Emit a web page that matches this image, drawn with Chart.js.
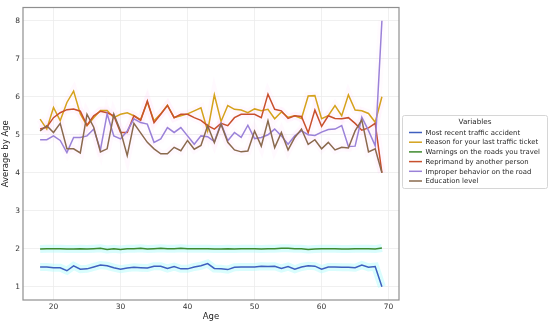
<!DOCTYPE html>
<html>
<head>
<meta charset="utf-8">
<script src="https://cdn.jsdelivr.net/npm/chart.js@4.4.1/dist/chart.umd.min.js"></script>
<style>
  html, body { margin: 0; padding: 0; background: #fff; }
  #wrap { width: 550px; height: 324px; }
</style>
</head>
<body>
<div id="wrap"><canvas id="ageChart" width="550" height="324"></canvas></div>
<script>
// --- DATA ---
const ages = [18, 19, 20, 21, 22, 23, 24, 25, 26, 27, 28, 29, 30, 31, 32, 33, 34,
  35, 36, 37, 38, 39, 40, 41, 42, 43, 44, 45, 46, 47, 48, 49, 50, 51, 52, 53,
  54, 55, 56, 57, 58, 59, 60, 61, 62, 63, 64, 65, 66, 67, 68, 69];

const recentAccident = [1.52, 1.52, 1.50, 1.50, 1.42, 1.55, 1.46, 1.47, 1.52, 1.57, 1.55, 1.50,
  1.46, 1.49, 1.51, 1.50, 1.49, 1.54, 1.54, 1.48, 1.53, 1.47, 1.47, 1.52, 1.55, 1.61,
  1.48, 1.47, 1.45, 1.51, 1.52, 1.52, 1.52, 1.54, 1.53, 1.54, 1.48, 1.53, 1.46, 1.52,
  1.55, 1.54, 1.46, 1.52, 1.52, 1.51, 1.51, 1.50, 1.57, 1.51, 1.53, 1.00];

const lastTicket = [5.41, 5.15, 5.72, 5.37, 5.85, 6.15, 5.55, 5.24, 5.45, 5.64, 5.64, 5.45,
  5.54, 5.58, 5.50, 5.40, 5.86, 5.37, 5.55, 5.78, 5.45, 5.50, 5.55, 5.63, 5.71, 5.10,
  6.05, 5.35, 5.77, 5.67, 5.65, 5.58, 5.68, 5.63, 5.67, 5.42, 5.60, 5.46, 5.50, 5.43,
  6.02, 6.03, 5.42, 5.50, 5.77, 5.50, 6.05, 5.65, 5.63, 5.56, 5.33, 6.00];

const roadWarnings = [1.99, 2.00, 2.00, 2.00, 1.99, 1.99, 2.00, 1.99, 2.00, 2.01, 1.98, 2.00,
  1.98, 2.00, 2.00, 2.01, 1.99, 2.00, 2.01, 2.00, 2.00, 2.01, 2.00, 2.00, 2.00, 2.00,
  1.99, 1.99, 2.00, 1.99, 2.00, 2.00, 2.00, 1.99, 2.00, 2.00, 2.01, 2.01, 2.00, 2.00,
  1.98, 1.99, 2.00, 2.00, 2.00, 1.99, 1.99, 2.00, 2.00, 2.00, 1.99, 2.02];

const reprimand = [5.15, 5.20, 5.45, 5.58, 5.66, 5.68, 5.62, 5.25, 5.50, 5.62, 5.58, 5.50,
  5.06, 5.06, 5.50, 5.38, 5.89, 5.32, 5.54, 5.77, 5.45, 5.54, 5.54, 5.45, 5.38, 5.24,
  5.15, 5.30, 5.24, 5.45, 5.54, 5.54, 5.54, 5.45, 6.07, 5.67, 5.63, 5.43, 5.50, 5.48,
  5.05, 5.65, 5.22, 5.50, 5.43, 5.42, 5.45, 5.30, 5.12, 5.18, 5.30, 4.00];

const improperBehavior = [4.87, 4.87, 4.97, 4.85, 4.53, 4.93, 4.93, 4.97, 5.15, 4.60, 5.55, 4.97,
  4.89, 5.10, 5.42, 5.32, 5.28, 4.80, 4.89, 5.19, 5.06, 5.19, 4.97, 4.75, 4.97, 4.95,
  4.82, 5.30, 4.84, 5.06, 4.93, 5.25, 4.90, 4.93, 5.00, 5.15, 4.97, 4.75, 4.97, 5.10,
  5.00, 4.98, 5.07, 5.14, 5.15, 5.24, 4.69, 4.70, 5.46, 5.11, 4.71, 8.00];

const education = [5.10, 5.24, 5.06, 5.30, 4.63, 4.63, 4.52, 5.54, 5.20, 4.55, 4.63, 5.54,
  5.10, 4.45, 5.30, 5.05, 4.80, 4.63, 4.50, 4.50, 4.67, 4.58, 4.85, 4.62, 4.72, 5.24,
  4.79, 5.28, 4.80, 4.60, 4.55, 4.57, 5.10, 4.70, 5.37, 4.66, 5.06, 4.60, 4.93, 5.15,
  4.75, 4.87, 4.63, 4.80, 4.60, 4.67, 4.65, 5.10, 5.39, 4.55, 4.63, 4.00];

const seriesNames = [
  "Most recent traffic accident",
  "Reason for your last traffic ticket",
  "Warnings on the roads you travel",
  "Reprimand by another person",
  "Improper behavior on the road",
  "Education level",
];
const seriesValues = [recentAccident, lastTicket, roadWarnings, reprimand, improperBehavior, education];
const xTickValues = [20, 30, 40, 50, 60, 70];
const yTickValues = [1, 2, 3, 4, 5, 6, 7, 8];

// --- STYLE ---
const lineColors = ["#3f5fbf", "#d4a21c", "#3e8a2e", "#c8502d", "#9a82d8", "#8a6a4e"];
const bandColors = [
  "rgba(170, 250, 250, 0.45)",
  "rgba(255, 170, 235, 0.07)",
  "rgba(170, 250, 250, 0.45)",
  "rgba(255, 170, 235, 0.07)",
  "rgba(255, 170, 235, 0.05)",
  "rgba(255, 170, 235, 0.07)",
];
const FONT = "'DejaVu Sans', sans-serif";

function toPoints(values) {
  return ages.map((age, i) => ({ x: age, y: values[i] }));
}

// bands first (drawn under), then the lines; later series sit on top like matplotlib
const datasets = [];
seriesValues.forEach((values, i) => {
  datasets.push({
    label: "band " + i,
    data: toPoints(values),
    borderColor: bandColors[i],
    borderWidth: 8,
    pointRadius: 0,
    order: 20,
  });
});
seriesValues.forEach((values, i) => {
  datasets.push({
    label: seriesNames[i],
    data: toPoints(values),
    borderColor: lineColors[i],
    backgroundColor: lineColors[i],
    borderWidth: 1.5,
    pointRadius: 0,
    tension: 0,
    order: seriesValues.length - i,
  });
});

// frame round the plot area
const plotFrame = {
  id: "plotFrame",
  afterDatasetsDraw(chart) {
    const { ctx, chartArea: a } = chart;
    ctx.save();
    ctx.strokeStyle = "#8f8f8f";
    ctx.lineWidth = 1.2;
    ctx.strokeRect(a.left, a.top, a.right - a.left, a.bottom - a.top);
    ctx.restore();
  },
};

// matplotlib-like legend box to the right of the plot
const sideLegend = {
  id: "sideLegend",
  afterDraw(chart) {
    const ctx = chart.ctx;
    const box = { x: 402.5, y: 115.5, w: 145, h: 73 };
    ctx.save();
    ctx.fillStyle = "rgba(255,255,255,0.9)";
    ctx.strokeStyle = "#d6d6d6";
    ctx.lineWidth = 1;
    ctx.beginPath();
    ctx.roundRect(box.x, box.y, box.w, box.h, 2);
    ctx.fill();
    ctx.stroke();

    ctx.fillStyle = "#262626";
    ctx.font = "7.2px " + FONT;
    ctx.textAlign = "center";
    ctx.textBaseline = "middle";
    ctx.fillText("Variables", box.x + box.w / 2, 122.5);

    ctx.font = "6.9px " + FONT;
    ctx.textAlign = "left";
    seriesNames.forEach((name, i) => {
      const y = 132.5 + i * 9.7;
      ctx.strokeStyle = lineColors[i];
      ctx.lineWidth = 1.5;
      ctx.beginPath();
      ctx.moveTo(409, y);
      ctx.lineTo(422, y);
      ctx.stroke();
      ctx.fillStyle = "#262626";
      ctx.fillText(name, 425.5, y + 0.5);
    });
    ctx.restore();
  },
};

const tickFont = { family: FONT, size: 7.5 };
const titleFont = { family: FONT, size: 8.5 };

new Chart(document.getElementById("ageChart"), {
  type: "line",
  data: { datasets },
  options: {
    responsive: false,
    animation: false,
    devicePixelRatio: 1,
    layout: { padding: { left: 0, right: 151, top: 4, bottom: 0 } },
    plugins: {
      legend: { display: false },
      tooltip: { enabled: false },
    },
    scales: {
      x: {
        type: "linear",
        min: 15.45,
        max: 71.55,
        afterBuildTicks: (scale) => {
          scale.ticks = xTickValues.map((v) => ({ value: v }));
        },
        afterFit: (scale) => {
          scale.height = 24;
        },
        grid: { color: "#ececec", lineWidth: 0.8, drawTicks: false },
        border: { display: false },
        ticks: { font: tickFont, color: "#333", padding: 3, maxRotation: 0, autoSkip: false },
        title: { display: true, text: "Age", font: titleFont, color: "#222", padding: { top: 0, bottom: 2 } },
      },
      y: {
        type: "linear",
        min: 0.65,
        max: 8.35,
        afterBuildTicks: (scale) => {
          scale.ticks = yTickValues.map((v) => ({ value: v }));
        },
        afterFit: (scale) => {
          scale.width = 23;
        },
        grid: { color: "#ececec", lineWidth: 0.8, drawTicks: false },
        border: { display: false },
        ticks: { font: tickFont, color: "#333", padding: 3 },
        title: { display: true, text: "Average by Age", font: titleFont, color: "#222", padding: { top: 1, bottom: 0 } },
      },
    },
  },
  plugins: [plotFrame, sideLegend],
});
</script>
</body>
</html>
